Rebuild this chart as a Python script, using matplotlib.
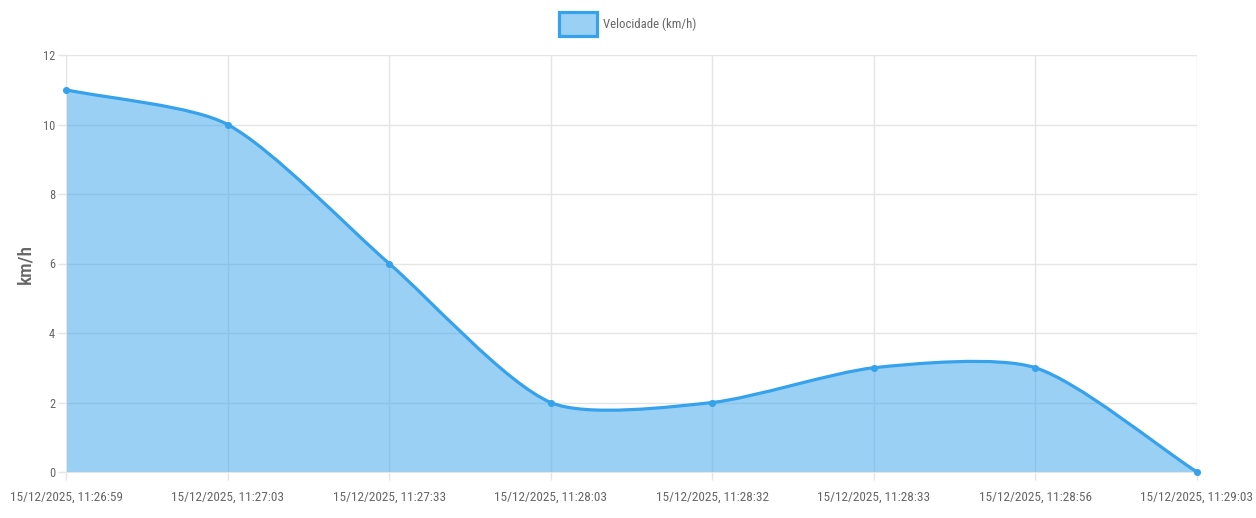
import numpy as np
import matplotlib.pyplot as plt
from matplotlib import font_manager
from matplotlib.path import Path
from matplotlib.patches import PathPatch, Patch

LABELS = [
    "15/12/2025, 11:26:59",
    "15/12/2025, 11:27:03",
    "15/12/2025, 11:27:33",
    "15/12/2025, 11:28:03",
    "15/12/2025, 11:28:32",
    "15/12/2025, 11:28:33",
    "15/12/2025, 11:28:56",
    "15/12/2025, 11:29:03",
]
SPEED = [11, 10, 6, 2, 2, 3, 3, 0]
Y_TICKS = [0, 2, 4, 6, 8, 10, 12]

LINE_COLOR = "#36A2EB"
TEXT_COLOR = "#666666"
GRID_COLOR = "#e5e5e5"
TENSION = 0.25

# the reference uses a very condensed face, take the narrowest one we have
installed = {f.name for f in font_manager.fontManager.ttflist}
for name in ["Liberation Sans Narrow", "DejaVu Sans Condensed", "Roboto Condensed",
             "Roboto", "Liberation Sans"]:
    if name in installed:
        FONT = name
        break
else:
    FONT = "DejaVu Sans"
plt.rcParams["font.family"] = [FONT, "DejaVu Sans"]

PX = 72 / 100  # points per pixel at dpi 100


def bezier_path(ax, xs, ys, tension):
    # chart.js style spline, control points worked out in pixel space
    pts = ax.transData.transform(np.column_stack([xs, ys]))
    n = len(pts)
    cp_prev = [None] * n
    cp_next = [None] * n
    for i in range(n):
        prev_p = pts[i - 1] if i > 0 else pts[i]
        next_p = pts[i + 1] if i < n - 1 else pts[i]
        cur = pts[i]
        d01 = np.hypot(*(cur - prev_p))
        d12 = np.hypot(*(next_p - cur))
        tot = d01 + d12
        s01 = d01 / tot if tot else 0
        s12 = d12 / tot if tot else 0
        cp_prev[i] = cur - tension * s01 * (next_p - prev_p)
        cp_next[i] = cur + tension * s12 * (next_p - prev_p)
    verts = [pts[0]]
    codes = [Path.MOVETO]
    for i in range(n - 1):
        verts += [cp_next[i], cp_prev[i + 1], pts[i + 1]]
        codes += [Path.CURVE4] * 3
    return ax.transData.inverted().transform(np.array(verts)), codes


def fit_size(fig, text, target_px, base=10):
    t = fig.text(0, 0, text, fontsize=base)
    bb = t.get_window_extent(renderer=fig.canvas.get_renderer())
    t.remove()
    return base * target_px / bb.width


fig = plt.figure(figsize=(12.56, 5.18), dpi=100)
fig.patch.set_facecolor("white")
ax = fig.add_axes([66 / 1256, 1 - 472 / 518, (1197 - 66) / 1256, (472 - 55) / 518])

x = np.arange(len(LABELS))
ax.set_xlim(0, len(LABELS) - 1)
ax.set_ylim(0, 12)

verts, codes = bezier_path(ax, x, SPEED, TENSION)

fill_verts = np.vstack([verts, [[x[-1], 0], [x[0], 0], verts[0]]])
fill_codes = codes + [Path.LINETO, Path.LINETO, Path.CLOSEPOLY]
ax.add_patch(PathPatch(Path(fill_verts, fill_codes), facecolor=LINE_COLOR, alpha=0.5,
                       edgecolor="none", zorder=2))
ax.add_patch(PathPatch(Path(verts, codes), facecolor="none", edgecolor=LINE_COLOR,
                       linewidth=2.3, zorder=3, capstyle="round", joinstyle="round"))
ax.scatter(x, SPEED, s=26, color=LINE_COLOR, zorder=4, clip_on=False, linewidths=0)

xsize = min(fit_size(fig, LABELS[0], 112), 14)
ysize = min(fit_size(fig, "10", 12), 14)
lsize = min(fit_size(fig, "Velocidade (km/h)", 93), 14)

ax.set_xticks(x)
ax.set_xticklabels(LABELS, fontsize=xsize)
ax.set_yticks(Y_TICKS)
ax.set_yticklabels([str(v) for v in Y_TICKS], fontsize=ysize)
ax.tick_params(axis="both", colors=GRID_COLOR, labelcolor=TEXT_COLOR,
               length=8 * PX, width=1)
ax.tick_params(axis="x", pad=11 * PX)
ax.tick_params(axis="y", pad=3 * PX)
ax.grid(True, color=GRID_COLOR, linewidth=1, zorder=0)
ax.set_axisbelow(True)
for side in ["top", "right"]:
    ax.spines[side].set_visible(False)
ax.spines["left"].set_color(GRID_COLOR)
ax.spines["bottom"].set_color(GRID_COLOR)

ax.set_ylabel("km/h", color=TEXT_COLOR, fontsize=min(fit_size(fig, "km/h", 46), 14),
              fontweight="medium")
ax.yaxis.set_label_coords(-32 / 1131, 0.5)

lpx = lsize / PX
handle = Patch(facecolor="#9BD0F5", edgecolor=LINE_COLOR, linewidth=2.3)
fig.legend([handle], ["Velocidade (km/h)"], loc="upper center",
           bbox_to_anchor=(0.5, 1.0), frameon=False, fontsize=lsize,
           labelcolor=TEXT_COLOR, handlelength=38 / lpx,
           handleheight=2.5, handletextpad=0.45, borderaxespad=0.55)

fig.savefig("out.png", dpi=100, facecolor="white")
